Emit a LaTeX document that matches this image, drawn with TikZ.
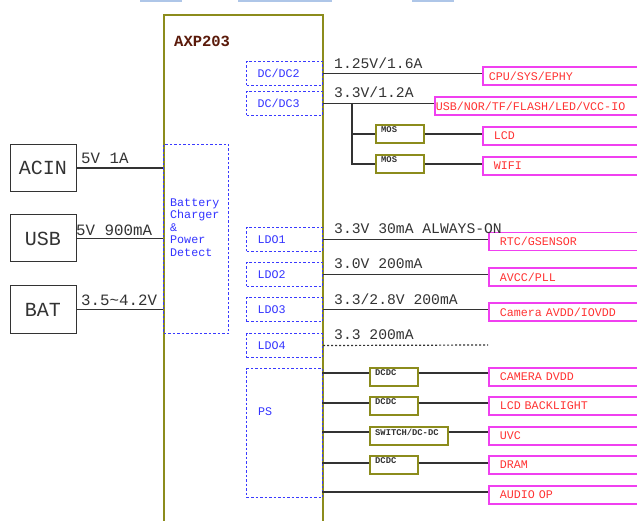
\documentclass[tikz,border=0pt]{standalone}
\usepackage{fontspec}
\newfontfamily\cour{Liberation Mono}
\definecolor{olivebox}{HTML}{8C8C1C}
\definecolor{dashblue}{HTML}{3A3AFF}
\definecolor{bluetext}{HTML}{3333FF}
\definecolor{pinkbox}{HTML}{F040F0}
\definecolor{redtext}{HTML}{FF3333}
\definecolor{wire}{HTML}{333333}
\definecolor{chipname}{HTML}{5A1A0A}
\definecolor{topbar}{HTML}{AEC6E8}
\tikzset{
 inbox/.style={draw=wire, line width=1pt, minimum width=66, minimum height=47, font=\cour\fontsize{20}{22}\selectfont, text=wire, inner sep=0},
 chipbox/.style={draw=olivebox, line width=2, anchor=north west, minimum width=159, minimum height=530, inner sep=0},
 blk/.style={draw=dashblue, dash pattern=on 2.5 off 2, line width=1, anchor=north west, inner sep=0},
 blkt/.style={blk, minimum width=76, minimum height=24, text width=54, inner xsep=11, align=left, text=bluetext, font=\cour\fontsize{11.7}{12.4}\selectfont},
 bluelbl/.style={text=bluetext, font=\cour\fontsize{11.7}{12.4}\selectfont, inner sep=0, align=left},
 vlbl/.style={text=wire, font=\cour\fontsize{14.7}{16}\selectfont, inner sep=0, anchor=west},
 ilbl/.style={text=wire, font=\cour\fontsize{15.8}{17}\selectfont, inner sep=0, anchor=west},
 pbox/.style={draw=pinkbox, line width=1.5, anchor=west, minimum height=18, text width=260, align=left, text=redtext, font=\cour\fontsize{11.7}{13}\selectfont, inner ysep=0},
 swbox/.style={draw=olivebox, line width=1.5, minimum height=18, inner sep=0, anchor=west},
 swl/.style={font=\cour\bfseries\fontsize{8.8}{9}\selectfont, text=wire, inner sep=0},
 wireln/.style={draw=wire, line width=1.2},
}
\begin{document}
\begin{tikzpicture}[x=1pt,y=-1pt]
\useasboundingbox (0,0) rectangle (637,521);
\clip (0,0) rectangle (637,521);
% top remnants
\fill[topbar] (140,0) rectangle (182,2);
\fill[topbar] (238,0) rectangle (332,2);
\fill[topbar] (412,0) rectangle (454,2);

% inputs
\node[inbox] (acin) at (43,168) {ACIN};
\node[inbox] (usb) at (43,238.5) {USB};
\node[inbox] (bat) at (43,309.5) {BAT};

% chip
\node[chipbox] (chip) at (163,14) {};
\node[font=\cour\bfseries\fontsize{15.5}{16}\selectfont, text=chipname, anchor=west, inner sep=0] (chipname) at (174,41) {AXP203};

% battery charger
\node[blk, minimum width=65, minimum height=189] (bc) at (163,144) {};
\node[bluelbl, anchor=north west] (bctext) at (170,198.5) {Battery\\Charger\\\&\\Power\\Detect};

% input wires and labels
\draw[wireln] (acin.east) -- (acin.east -| chip.west);
\draw[wireln] (usb.east) -- (usb.east -| chip.west);
\draw[wireln] (bat.east) -- (bat.east -| chip.west);
\node[ilbl] (l5v1a) at (81,158) {5V 1A};
\node[ilbl] (l5v900) at (76,230) {5V 900mA};
\node[ilbl] (lbat) at (81,300) {3.5\textasciitilde4.2V};

% regulators
\node[blkt] (dc2) at (246,61) {DC/DC2};
\node[blkt] (dc3) at (246,91) {DC/DC3};
\node[blkt] (ldo1) at (246,227) {LDO1};
\node[blkt] (ldo2) at (246,262) {LDO2};
\node[blkt] (ldo3) at (246,297) {LDO3};
\node[blkt] (ldo4) at (246,333) {LDO4};
\node[blk, minimum width=76, minimum height=129] (ps) at (246,368) {};
\node[bluelbl, anchor=west] (pstext) at (258,412) {PS};

% outputs
\node[pbox, inner xsep=6] (cpu) at (482,76) {CPU/SYS/EPHY};
\node[pbox, inner xsep=1] (usbio) at (434,106) {USB/NOR/TF/FLASH/LED/VCC-IO};
\node[swbox, minimum width=48, label={[swl, anchor=north west, xshift=6, yshift=-2]north west:MOS}] (mos1) at (375,134) {};
\node[swbox, minimum width=48, label={[swl, anchor=north west, xshift=6, yshift=-2]north west:MOS}] (mos2) at (375,164) {};
\node[pbox, inner xsep=11] (lcd) at (482,136) {LCD};
\node[pbox, inner xsep=11] (wifi) at (482,166) {WIFI};

\node[pbox, inner xsep=11] (rtc) at (488,241.5) {RTC/GSENSOR};
\node[pbox, inner xsep=11] (avcc) at (488,277) {AVCC/PLL};
\node[pbox, inner xsep=11] (cam) at (488,312) {Camera AVDD/IOVDD};

\node[swbox, minimum width=48, label={[swl, anchor=north west, xshift=6, yshift=-2.5]north west:DCDC}] (d1) at (369,377) {};
\node[swbox, minimum width=48, label={[swl, anchor=north west, xshift=6, yshift=-2.5]north west:DCDC}] (d2) at (369,406) {};
\node[swbox, minimum width=78, label={[swl, anchor=north west, xshift=6, yshift=-2.5]north west:SWITCH/DC-DC}] (d3) at (369,436) {};
\node[swbox, minimum width=48, label={[swl, anchor=north west, xshift=6, yshift=-2.5]north west:DCDC}] (d4) at (369,465) {};
\node[pbox, inner xsep=11] (camd) at (488,377) {CAMERA DVDD};
\node[pbox, inner xsep=11] (bl) at (488,406) {LCD BACKLIGHT};
\node[pbox, inner xsep=11] (uvc) at (488,436) {UVC};
\node[pbox, inner xsep=11] (dram) at (488,465) {DRAM};
\node[pbox, inner xsep=11] (audio) at (488,495) {AUDIO OP};

% voltage labels
\node[vlbl] (v1) at (334,63) {1.25V/1.6A};
\node[vlbl] (v2) at (334,92) {3.3V/1.2A};
\node[vlbl] (v3) at (334,229) {3.3V 30mA ALWAYS-ON};
\node[vlbl] (v4) at (334,264) {3.0V 200mA};
\node[vlbl] (v5) at (334,299) {3.3/2.8V 200mA};
\node[vlbl] (v6) at (334,335) {3.3 200mA};

% wires
\draw[wireln] (dc2.east) -- (dc2.east -| cpu.west);
\draw[wireln] (dc3.east) -- (dc3.east -| usbio.west);
\coordinate (br) at (352,103);
\draw[wireln] (br) |- (mos2.west);
\draw[wireln] (br |- mos1.west) -- (mos1.west);
\draw[wireln] (mos1.east) -- (mos1.east -| lcd.west);
\draw[wireln] (mos2.east) -- (mos2.east -| wifi.west);
\draw[wireln] (ldo1.east) -- (ldo1.east -| rtc.west);
\draw[wireln] (ldo2.east) -- (ldo2.east -| avcc.west);
\draw[wireln] (ldo3.east) -- (ldo3.east -| cam.west);
\coordinate (ldo4end) at (488,345);
\draw[wireln, dash pattern=on 2 off 2] (ldo4.east) -- (ldo4end);

\coordinate (l1) at (322,373);
\coordinate (l2) at (322,403);
\coordinate (l3) at (322,432);
\coordinate (l4) at (322,463);
\coordinate (l5) at (322,492);
\draw[wireln] (l1) -- (l1 -| d1.west);
\draw[wireln] (d1.east |- l1) -- (l1 -| camd.west);
\draw[wireln] (l2) -- (l2 -| d2.west);
\draw[wireln] (d2.east |- l2) -- (l2 -| bl.west);
\draw[wireln] (l3) -- (l3 -| d3.west);
\draw[wireln] (d3.east |- l3) -- (l3 -| uvc.west);
\draw[wireln] (l4) -- (l4 -| d4.west);
\draw[wireln] (d4.east |- l4) -- (l4 -| dram.west);
\draw[wireln] (l5) -- (l5 -| audio.west);
\end{tikzpicture}
\end{document}
